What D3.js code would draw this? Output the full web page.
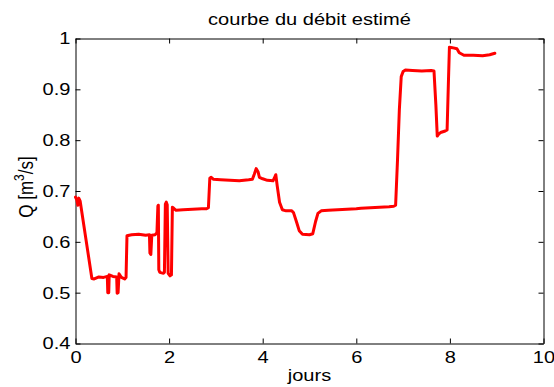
<!DOCTYPE html>
<html>
<head>
<meta charset="utf-8">
<script src="https://cdn.jsdelivr.net/npm/d3@7/dist/d3.min.js"></script>
<style>
  html, body { margin: 0; padding: 0; background: #fff; }
  svg { display: block; }
  text { font-family: "Liberation Sans", Arial, Helvetica, sans-serif; fill: #000; }
</style>
</head>
<body>
<svg id="chart" width="554" height="387"></svg>
<script>
// Estimated discharge over time (days)
const days = [0.00, 0.03, 0.05, 0.07, 0.10, 0.35, 0.40, 0.50, 0.60, 0.68, 0.69, 0.71, 0.72, 0.80,
  0.88, 0.89, 0.91, 0.93, 0.98, 1.05, 1.08, 1.10, 1.20, 1.35, 1.50, 1.58, 1.59, 1.61, 1.63, 1.70,
  1.74, 1.76, 1.77, 1.78, 1.80, 1.88, 1.90, 1.92, 1.94, 1.96, 1.98, 2.02, 2.05, 2.07, 2.10, 2.15,
  2.30, 2.50, 2.70, 2.80, 2.84, 2.87, 2.90, 2.95, 3.10, 3.30, 3.50, 3.70, 3.78, 3.82, 3.86, 3.90,
  3.93, 4.00, 4.10, 4.22, 4.26, 4.28, 4.31, 4.36, 4.42, 4.50, 4.62, 4.66, 4.72, 4.78, 4.85, 5.00,
  5.07, 5.13, 5.18, 5.25, 5.40, 5.60, 5.80, 6.00, 6.10, 6.30, 6.50, 6.70, 6.80, 6.84, 6.88, 6.92,
  6.96, 7.00, 7.05, 7.20, 7.40, 7.60, 7.66, 7.70, 7.73, 7.76, 7.80, 7.90, 7.94, 7.97, 7.99, 8.05,
  8.15, 8.20, 8.30, 8.50, 8.70, 8.85, 8.96];
const debit = [0.688, 0.682, 0.672, 0.686, 0.680, 0.528, 0.527, 0.531, 0.530, 0.532, 0.500, 0.500, 0.535, 0.532,
  0.531, 0.499, 0.500, 0.537, 0.530, 0.527, 0.530, 0.612, 0.614, 0.615, 0.613, 0.614, 0.578, 0.575, 0.613, 0.614,
  0.618, 0.670, 0.672, 0.545, 0.540, 0.538, 0.540, 0.674, 0.678, 0.673, 0.538, 0.533, 0.535, 0.668, 0.666, 0.662,
  0.663, 0.664, 0.665, 0.665, 0.667, 0.725, 0.727, 0.723, 0.722, 0.721, 0.720, 0.722, 0.723, 0.733, 0.744, 0.738,
  0.727, 0.724, 0.721, 0.720, 0.728, 0.732, 0.710, 0.678, 0.663, 0.661, 0.661, 0.657, 0.640, 0.622, 0.615, 0.614,
  0.616, 0.640, 0.656, 0.661, 0.662, 0.663, 0.664, 0.665, 0.666, 0.667, 0.668, 0.669, 0.670, 0.672, 0.760, 0.860,
  0.925, 0.935, 0.938, 0.937, 0.936, 0.937, 0.936, 0.870, 0.808, 0.812, 0.815, 0.818, 0.820, 0.920, 0.983, 0.982,
  0.980, 0.972, 0.967, 0.967, 0.966, 0.968, 0.971];

const xTicks = [0, 2, 4, 6, 8, 10];
const xTickLabels = ["0", "2", "4", "6", "8", "10"];
const yTicks = [0.4, 0.5, 0.6, 0.7, 0.8, 0.9, 1.0];
const yTickLabels = ["0.4", "0.5", "0.6", "0.7", "0.8", "0.9", "1"];

const titleText = "courbe du débit estimé";
const xLabel = "jours";

const plot = { left: 75.5, right: 543.5, top: 38.5, bottom: 343.5 };
const stretch = 1.18;   // glyphs are drawn slightly wide
const fontSize = 17;

const svg = d3.select("#chart");

const x = d3.scaleLinear().domain([0, 10]).range([plot.left, plot.right]);
const y = d3.scaleLinear().domain([0.4, 1]).range([plot.bottom, plot.top]);

// Frame and inward ticks on all four sides
function styleAxis(g) {
  g.select(".domain").attr("stroke", "#000").attr("stroke-width", 1);
  g.selectAll(".tick line").attr("stroke", "#000").attr("stroke-width", 1);
  g.selectAll(".tick text")
    .style("font-size", fontSize + "px")
    .attr("fill", "#000");
}

const gBottom = svg.append("g")
  .attr("transform", `translate(0,${plot.bottom})`)
  .call(d3.axisBottom(x).tickValues(xTicks)
    .tickFormat((d, i) => xTickLabels[i])
    .tickSize(-5).tickSizeOuter(0).tickPadding(7));
styleAxis(gBottom);
gBottom.selectAll(".tick text").attr("transform", `scale(${stretch},1)`);

const gLeft = svg.append("g")
  .attr("transform", `translate(${plot.left},0)`)
  .call(d3.axisLeft(y).tickValues(yTicks)
    .tickFormat((d, i) => yTickLabels[i])
    .tickSize(-5).tickSizeOuter(0).tickPadding(4.3));
styleAxis(gLeft);
gLeft.selectAll(".tick text").attr("transform", `scale(${stretch},1)`);

const gTop = svg.append("g")
  .attr("transform", `translate(0,${plot.top})`)
  .call(d3.axisTop(x).tickValues(xTicks).tickFormat("")
    .tickSize(-5).tickSizeOuter(0));
styleAxis(gTop);

const gRight = svg.append("g")
  .attr("transform", `translate(${plot.right},0)`)
  .call(d3.axisRight(y).tickValues(yTicks).tickFormat("")
    .tickSize(-5).tickSizeOuter(0));
styleAxis(gRight);

// Discharge curve
const line = d3.line()
  .x((d, i) => x(days[i]))
  .y(d => y(d));

svg.append("path")
  .datum(debit)
  .attr("d", line)
  .attr("fill", "none")
  .attr("stroke", "#ff0000")
  .attr("stroke-width", 3)
  .attr("stroke-linejoin", "round")
  .attr("stroke-linecap", "round");

// Title
svg.append("text")
  .attr("transform", `translate(${(plot.left + plot.right) / 2},24.5) scale(${stretch},1)`)
  .attr("text-anchor", "middle")
  .style("font-size", fontSize + "px")
  .text(titleText);

// X axis label
svg.append("text")
  .attr("transform", `translate(${(plot.left + plot.right) / 2},381) scale(${stretch},1)`)
  .attr("text-anchor", "middle")
  .style("font-size", fontSize + "px")
  .text(xLabel);

// Y axis label with superscript
const yl = svg.append("text")
  .attr("transform", `translate(32.5,187) rotate(-90) scale(1,${stretch})`)
  .attr("text-anchor", "middle")
  .style("font-size", fontSize + "px");
yl.append("tspan").text("Q [m");
yl.append("tspan").attr("dy", -7).style("font-size", "12px").text("3");
yl.append("tspan").attr("dy", 7).text("/s]");
</script>
</body>
</html>
